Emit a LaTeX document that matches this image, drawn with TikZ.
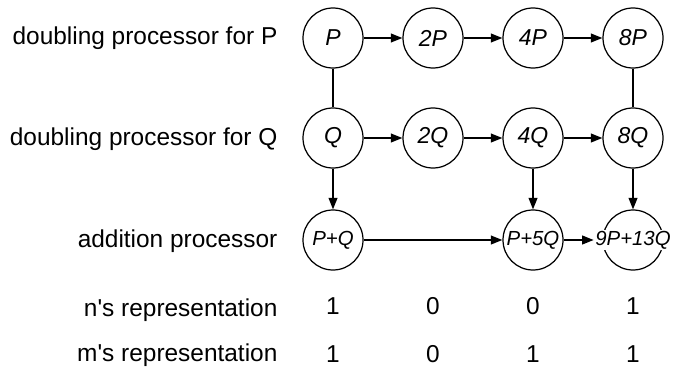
\documentclass[tikz,border=0pt]{standalone}
\usepackage{fontspec}
\setmainfont{Liberation Sans}
\usetikzlibrary{arrows.meta}

\begin{document}
\begin{tikzpicture}[x=2cm, y=2cm, line width=0.7pt,
  >={Triangle[length=6.5pt, width=5pt]},
  proc/.style={circle, draw, minimum size=1.2cm, inner sep=0pt, font=\fontsize{13.1}{15}\selectfont\itshape},
  add/.style={proc, font=\fontsize{11.6}{13}\selectfont\itshape},
  sumtxt/.style={fill=white, inner sep=0.6pt, font=\fontsize{11.6}{13}\selectfont\itshape},
  lbl/.style={anchor=mid east, inner sep=0pt, font=\fontsize{13.9}{16}\selectfont},
  bit/.style={anchor=mid, inner sep=0pt, font=\fontsize{13.9}{16}\selectfont}]
  \useasboundingbox (0,0) rectangle (6.73,3.75);

  % row labels
  \node[lbl] (lp) at (2.78, 3.35) {doubling processor for P};
  \node[lbl] (lq) at (2.78, 2.34) {doubling processor for Q};
  \node[lbl] (la) at (2.78, 1.32) {addition processor};
  \node[lbl] (ln) at (2.78, 0.63) {n\textquotesingle s representation};
  \node[lbl] (lm) at (2.78, 0.18) {m\textquotesingle s representation};

  % doubling of P
  \node[proc] (p1) at (3.33, 3.37) {P};
  \node[proc] (p2) at (4.33, 3.37) {2P};
  \node[proc] (p4) at (5.33, 3.37) {4P};
  \node[proc] (p8) at (6.33, 3.37) {8P};

  % doubling of Q
  \node[proc] (q1) at (3.33, 2.37) {Q};
  \node[proc] (q2) at (4.33, 2.37) {2Q};
  \node[proc] (q4) at (5.33, 2.37) {4Q};
  \node[proc] (q8) at (6.33, 2.37) {8Q};

  % additions
  \node[add] (s1) at (3.33, 1.35) {P+Q};
  \node[add] (s5) at (5.33, 1.35) {P+5Q};
  \node[add] (s13c) at (6.33, 1.35) {};
  \node[sumtxt] (s13) at (s13c) {9P+13Q};

  \draw[->] (p1) -- (p2);
  \draw[->] (p2) -- (p4);
  \draw[->] (p4) -- (p8);
  \draw[->] (q1) -- (q2);
  \draw[->] (q2) -- (q4);
  \draw[->] (q4) -- (q8);
  \draw (p1) -- (q1);
  \draw (p8) -- (q8);
  \draw[->] (q1) -- (s1);
  \draw[->] (q4) -- (s5);
  \draw[->] (q8) -- (s13c);
  \draw[->] (s1) -- (s5);
  \draw[->] (s5) -- (s13);

  % bits
  \node[bit] (n1) at (3.33, 0.65) {1};
  \node[bit] (n2) at (4.33, 0.65) {0};
  \node[bit] (n4) at (5.33, 0.65) {0};
  \node[bit] (n8) at (6.33, 0.65) {1};
  \node[bit] (m1) at (3.33, 0.17) {1};
  \node[bit] (m2) at (4.33, 0.17) {0};
  \node[bit] (m4) at (5.33, 0.17) {1};
  \node[bit] (m8) at (6.33, 0.17) {1};
\end{tikzpicture}
\end{document}
